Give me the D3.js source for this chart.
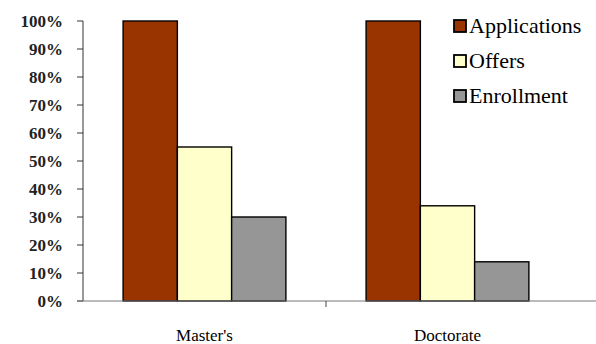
<!DOCTYPE html>
<html><head><meta charset="utf-8">
<script src="https://cdn.jsdelivr.net/npm/d3@7"></script>
</head><body style="margin:0">
<svg id="c" width="596" height="344"></svg>
<script>
const categories = ["Master's", "Doctorate"];
const seriesNames = ["Applications", "Offers", "Enrollment"];
const applications = [100, 100];
const offers = [55, 34];
const enrollment = [30, 14];
const yTicks = [0,10,20,30,40,50,60,70,80,90,100];
const colors = ["#993300", "#FFFFCC", "#969696"];

(function(){
const FONT = '"Liberation Serif"';
const seriesVals = [applications, offers, enrollment];
const svg = d3.select("#c");
const mLeft = 83, mRight = 569, mTop = 21, mBottom = 301;
const x = d3.scaleBand().domain(categories).range([mLeft, mRight]).paddingInner(0.33).paddingOuter(0.165);
const x1 = d3.scaleBand().domain(seriesNames).range([0, x.bandwidth()]);
const y = d3.scaleLinear().domain([0, 100]).range([mBottom, mTop]);

// text first (mirrors the working font test)
seriesNames.forEach((s, i) => {
  svg.append("text").style("font-family", FONT).style("font-size", "22px")
    .attr("x", 469).attr("y", 33 + i * 35).text(s);
});
yTicks.forEach(t => {
  svg.append("text").style("font-family", FONT).style("font-size", "17px").style("font-weight", "bold")
    .attr("x", mLeft - 20).attr("y", y(t) + 6).attr("text-anchor", "end").attr("fill", "#222")
    .text(t + "%");
});
categories.forEach(c => {
  svg.append("text").style("font-family", FONT).style("font-size", "17px")
    .attr("x", x(c) + x.bandwidth() / 2).attr("y", mBottom + 40).attr("text-anchor", "middle")
    .text(c);
});

// bars
categories.forEach((c, ci) => {
  seriesNames.forEach((s, si) => {
    svg.append("rect")
      .attr("x", x(c) + x1(s))
      .attr("y", y(seriesVals[si][ci]))
      .attr("width", x1.bandwidth())
      .attr("height", y(0) - y(seriesVals[si][ci]))
      .attr("fill", colors[si])
      .attr("stroke", "#000")
      .attr("stroke-width", 1.4);
  });
});

// y axis line and ticks from scale
svg.append("line").attr("x1", mLeft).attr("x2", mLeft).attr("y1", y(100)).attr("y2", y(0)).attr("stroke", "#333");
yTicks.forEach(t => {
  svg.append("line").attr("x1", mLeft - 6).attr("x2", mLeft).attr("y1", y(t)).attr("y2", y(t)).attr("stroke", "#333");
});
// x axis line
svg.append("line").attr("x1", mLeft - 6).attr("x2", mRight + 27).attr("y1", y(0)).attr("y2", y(0)).attr("stroke", "#777");
const midX = (x(categories[0]) + x.bandwidth() + x(categories[1])) / 2;
svg.append("line").attr("x1", midX).attr("x2", midX)
  .attr("y1", mBottom).attr("y2", mBottom + 6).attr("stroke", "#444");

// legend swatches
seriesNames.forEach((s, i) => {
  svg.append("rect").attr("x", 454).attr("y", 20 + i * 35).attr("width", 12).attr("height", 12)
    .attr("fill", colors[i]).attr("stroke", "#000").attr("stroke-width", 1.8);
});
})();
</script>
</body></html>
